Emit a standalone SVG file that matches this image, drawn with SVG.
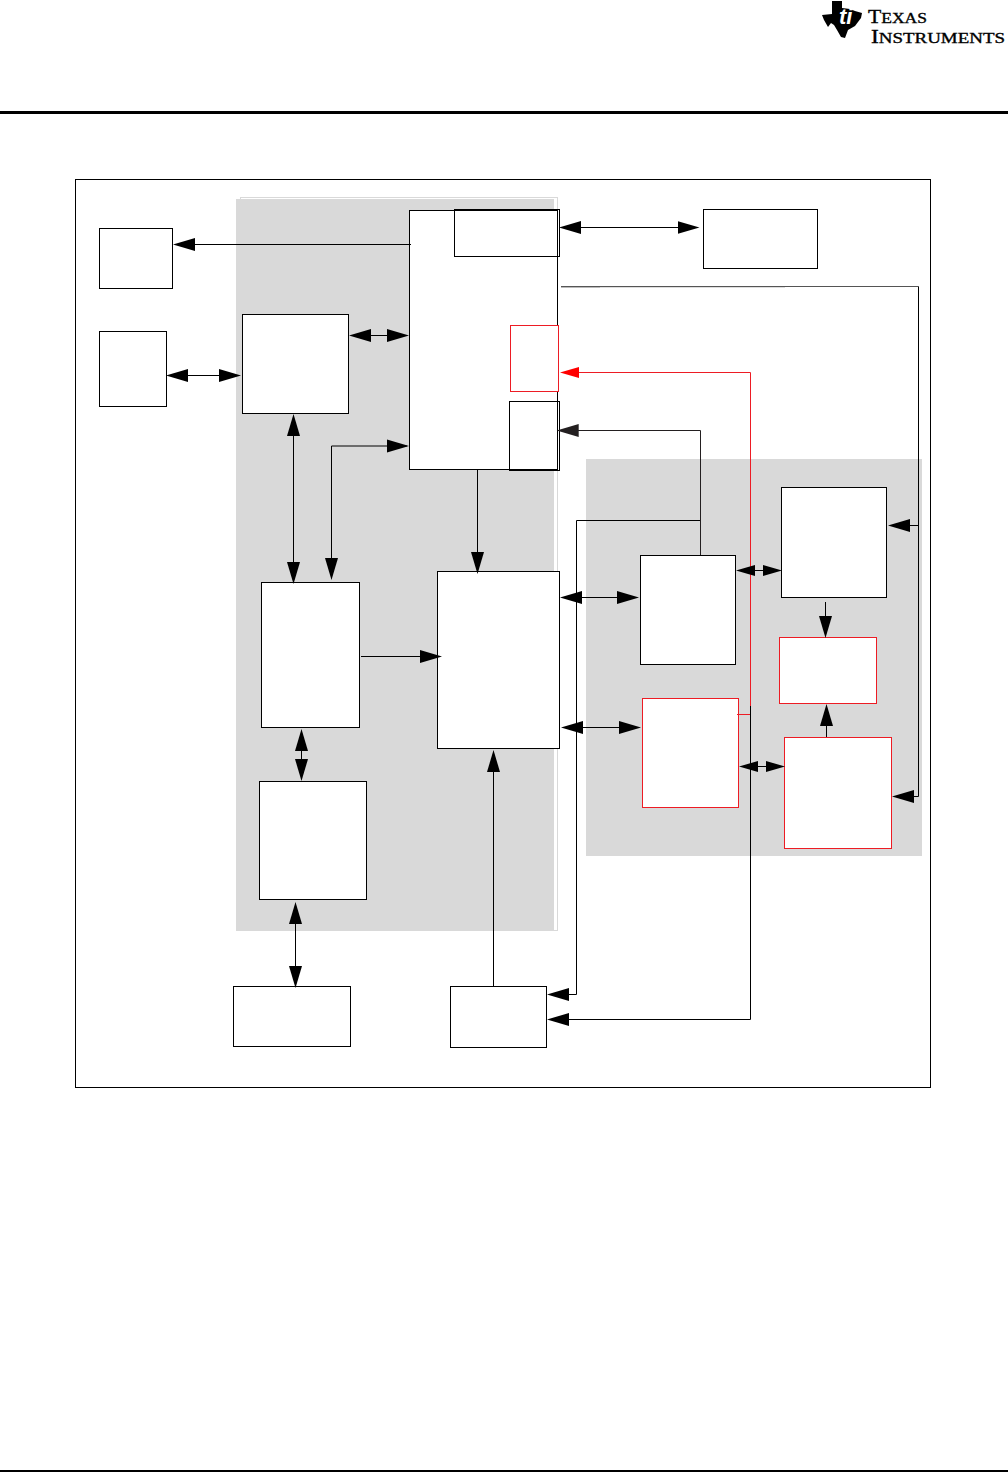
<svg xmlns="http://www.w3.org/2000/svg" width="1008" height="1472" viewBox="0 0 1008 1472">
<style>
.k{fill:#fff;stroke:#000;stroke-width:1}
.r{fill:#fff;stroke:#ed1c24;stroke-width:1}
.o{fill:none;stroke:#000;stroke-width:1}
.b{fill:#000}
.l{fill:none;stroke:#000;stroke-width:1}
.lr{fill:none;stroke:#ed1c24;stroke-width:1}
.ld{fill:none;stroke:#231f20;stroke-width:1}
.a{marker-end:url(#ah)}
.d{marker-start:url(#ah);marker-end:url(#ah)}
.ds{marker-start:url(#as);marker-end:url(#as)}
.logo{font-family:"Liberation Serif",serif;fill:#000;stroke:#000;stroke-width:.35}
</style>
<defs>
<marker id="ah" markerUnits="userSpaceOnUse" markerWidth="24" markerHeight="14" refX="20" refY="7" orient="auto-start-reverse"><path d="M0,0.5 L22,7 L0,13.5z" fill="#000"/></marker>
<marker id="as" markerUnits="userSpaceOnUse" markerWidth="20" markerHeight="12" refX="17" refY="6" orient="auto-start-reverse"><path d="M0,0.5 L19,6 L0,11.5z" fill="#000"/></marker>
<marker id="ar" markerUnits="userSpaceOnUse" markerWidth="20" markerHeight="12" refX="17" refY="6" orient="auto"><path d="M0,0.5 L19,6 L0,11.5z" fill="#f00"/></marker>
<marker id="ad" markerUnits="userSpaceOnUse" markerWidth="24" markerHeight="14" refX="20" refY="7" orient="auto"><path d="M0,0.5 L22,7 L0,13.5z" fill="#231f20"/></marker>
</defs>
<rect width="1008" height="1472" fill="#fff"/>
<g id="page-furniture">
<rect class="b" x="0" y="111" width="1008" height="3"/>
<rect class="b" x="0" y="1470" width="1008" height="2"/>
</g>
<g id="ti-logo">
<path class="b" d="M832,1 L842,1 L842,8 L850,9 L855,11 L862,13 L861,18 L855,26 L848,30 L845,38 L841,37 L837,30 L834,25 L831,23 L828,27 L824,20 L822,15 L832,14z"/>
<text x="839" y="24" font-family="Liberation Sans,sans-serif" font-size="22" font-style="italic" font-weight="700" fill="#fff">ti</text>
<text class="logo" x="868" y="22.8" font-size="18.5" textLength="59" lengthAdjust="spacingAndGlyphs">T<tspan font-size="15">EXAS</tspan></text>
<text class="logo" x="871" y="43.4" font-size="18.5" textLength="134" lengthAdjust="spacingAndGlyphs">I<tspan font-size="15">NSTRUMENTS</tspan></text>
</g>
<rect id="frame" class="o" x="75.5" y="179.5" width="855" height="908"/>
<g id="regions">
<rect x="240.5" y="197.5" width="317" height="733" fill="none" stroke="#d9d9d9"/>
<rect x="236" y="199" width="318" height="732" fill="#d9d9d9"/>
<rect x="586" y="459" width="336" height="397" fill="#d9d9d9"/>
</g>
<g id="n-top-left"><rect class="k" x="99.5" y="228.5" width="73" height="60"/></g>
<g id="n-left"><rect class="k" x="99.5" y="331.5" width="67" height="75"/></g>
<g id="n-a"><rect class="k" x="242.5" y="314.5" width="106" height="99"/></g>
<g id="n-main"><rect class="k" x="409.5" y="210.5" width="148" height="259"/></g>
<g id="n-main-top"><rect class="o" x="454.5" y="209.5" width="105" height="47"/></g>
<g id="n-main-red"><rect class="r" x="510.5" y="325.5" width="48" height="66"/></g>
<g id="n-main-low"><rect class="o" x="509.5" y="401.5" width="50" height="69"/></g>
<g id="n-upper-right"><rect class="k" x="703.5" y="209.5" width="114" height="59"/></g>
<g id="n-b"><rect class="k" x="261.5" y="582.5" width="98" height="145"/></g>
<g id="n-c"><rect class="k" x="437.5" y="571.5" width="122" height="177"/></g>
<g id="n-d"><rect class="k" x="259.5" y="781.5" width="107" height="118"/></g>
<g id="n-e"><rect class="k" x="233.5" y="986.5" width="117" height="60"/></g>
<g id="n-f"><rect class="k" x="450.5" y="986.5" width="96" height="61"/></g>
<g id="n-g"><rect class="k" x="781.5" y="487.5" width="105" height="110"/></g>
<g id="n-h"><rect class="k" x="640.5" y="555.5" width="95" height="109"/></g>
<g id="n-i"><rect class="r" x="642.5" y="698.5" width="96" height="109"/></g>
<g id="n-j"><rect class="r" x="779.5" y="637.5" width="97" height="66"/></g>
<g id="n-k"><rect class="r" x="784.5" y="737.5" width="107" height="111"/></g>
<g id="connectors">
<path class="lr" style="marker-end:url(#ar)" d="M750.5,706 V372.5 H562"/>
<path class="lr" d="M737,714.5 H750"/>
<path class="l" d="M750.5,706 V1019.5 H549" style="marker-end:url(#ah)"/>
<path class="a l" d="M700.5,520.5 H576.5 V994.5 H549"/>
<path class="ld" style="marker-end:url(#ad)" d="M700.5,555 V430.5 H558.7"/>
<path fill="none" stroke="#bbb" d="M600,287 H785"/>
<path fill="none" stroke="#777" d="M561,287 H600"/>
<path fill="none" stroke="#555" d="M561,286.5 H918.5"/>
<path class="a l" d="M918.5,286.5 V796.5 H894"/>
<path class="a l" d="M918.5,525.5 H890"/>
<path class="a l" d="M411,244.5 H175"/>
<path class="d l" d="M351,335.5 H407"/>
<path class="d l" d="M168,375.5 H239"/>
<path class="d l" d="M293.5,416 V582"/>
<path class="d l" d="M331.5,578 V446 H407"/>
<path class="a l" d="M477.5,469 V572"/>
<path class="a l" d="M361,656.5 H440"/>
<path class="d l" d="M301.5,731 V779"/>
<path class="d l" d="M295.5,904 V986"/>
<path class="a l" d="M493.5,986 V752"/>
<path class="d l" d="M561,227.5 H697.5"/>
<path class="d l" d="M562,597.5 H637"/>
<path class="d l" d="M563,727.5 H639"/>
<path class="ds l" d="M738,570.5 H780"/>
<path class="ds l" d="M741,766.5 H783"/>
<path class="a l" d="M825.5,602 V636"/>
<path class="a l" d="M826.5,737 V706"/>
</g>
</svg>
